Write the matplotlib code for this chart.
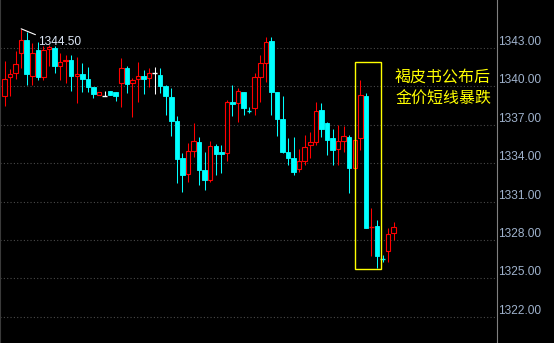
import numpy as np
import matplotlib
matplotlib.use('Agg')
import matplotlib.pyplot as plt
from matplotlib.patches import Rectangle
from matplotlib.transforms import blended_transform_factory, offset_copy

# 1分钟K线 (开, 高, 低, 收)
opens = [1339.25, 1340.71, 1341.02, 1342.59, 1343.63, 1340.84, 1342.84, 1340.76, 1342.92, 1343.02,
         1341.60, 1341.96, 1342.06, 1340.85, 1340.97, 1340.58, 1339.93, 1339.33, 1339.25, 1339.64,
         1339.59, 1340.24, 1341.41, 1340.30, 1340.55, 1340.81, 1340.63, 1341.07, 1340.89, 1340.03,
         1339.20, 1337.30, 1334.43, 1333.13, 1334.98, 1335.68, 1333.47, 1332.69, 1335.34, 1334.90,
         1334.82, 1338.80, 1338.68, 1339.56, 1338.10, 1338.29, 1340.76, 1341.80, 1343.55, 1339.59,
         1337.43, 1334.90, 1334.40, 1333.55, 1334.20, 1335.42, 1335.68, 1338.16, 1337.12, 1335.94,
         1335.08, 1335.76, 1336.07, 1333.60, 1335.94, 1339.25, 1329.02, 1329.10, 1326.54, 1327.16,
         1328.57]
highs = [1341.98, 1341.36, 1342.77, 1344.50, 1344.27, 1343.37, 1343.49, 1343.18, 1343.23, 1343.16,
         1342.59, 1342.45, 1342.45, 1342.30, 1341.83, 1341.49, 1339.95, 1339.56, 1339.64, 1339.66,
         1339.60, 1342.20, 1341.60, 1340.66, 1341.90, 1341.28, 1341.46, 1341.54, 1341.46, 1340.11,
         1339.90, 1337.69, 1334.82, 1335.60, 1337.16, 1336.07, 1334.90, 1335.73, 1335.50, 1335.42,
         1338.94, 1340.11, 1339.85, 1339.56, 1338.37, 1341.02, 1342.45, 1343.88, 1343.88, 1339.60,
         1339.25, 1335.97, 1336.05, 1335.08, 1336.20, 1336.46, 1338.76, 1338.68, 1337.24, 1336.65,
         1336.98, 1336.91, 1336.20, 1335.97, 1340.50, 1339.46, 1330.50, 1329.56, 1326.83, 1328.91,
         1329.38]
lows = [1338.47, 1339.25, 1340.55, 1341.41, 1340.11, 1340.11, 1340.50, 1340.50, 1341.60, 1341.02,
        1340.50, 1340.29, 1339.66, 1338.70, 1339.59, 1339.59, 1339.12, 1339.31, 1339.25, 1339.30,
        1338.88, 1338.41, 1339.46, 1337.60, 1338.80, 1339.40, 1339.93, 1339.40, 1339.46, 1337.77,
        1336.13, 1332.48, 1331.77, 1332.55, 1334.50, 1332.30, 1331.90, 1332.50, 1333.08, 1333.26,
        1334.17, 1337.69, 1337.24, 1337.77, 1337.95, 1337.77, 1338.80, 1340.37, 1337.77, 1336.13,
        1334.80, 1333.86, 1333.08, 1333.34, 1333.86, 1334.38, 1335.42, 1336.07, 1334.64, 1333.86,
        1333.86, 1334.90, 1331.67, 1333.47, 1335.03, 1328.96, 1326.75, 1325.79, 1326.28, 1326.30,
        1328.00]
closes = [1340.58, 1340.95, 1341.73, 1343.63, 1340.95, 1342.59, 1340.71, 1342.84, 1343.08, 1341.62,
          1341.88, 1342.09, 1340.84, 1340.97, 1340.58, 1339.93, 1339.41, 1339.54, 1339.25, 1339.33,
          1339.27, 1341.41, 1340.16, 1340.50, 1340.81, 1340.58, 1341.07, 1341.07, 1340.03, 1339.27,
          1337.32, 1334.33, 1333.08, 1334.95, 1335.73, 1333.47, 1332.69, 1335.34, 1334.72, 1334.72,
          1338.80, 1338.65, 1339.64, 1338.34, 1338.06, 1340.71, 1341.80, 1343.45, 1339.59, 1337.45,
          1334.88, 1334.43, 1333.34, 1334.17, 1335.24, 1335.68, 1338.10, 1336.65, 1335.81, 1335.03,
          1335.73, 1336.13, 1333.60, 1335.81, 1339.33, 1328.96, 1329.04, 1326.75, 1326.50, 1328.47,
          1328.99]

price_ticks = [1322, 1325, 1328, 1331, 1334, 1337, 1340, 1343]
note_lines = ['褐皮书公布后', '金价短线暴跌']
crash_bars = [64, 65, 66, 67]   # 黄框里的几根K线

UP = '#ff0000'
DOWN = '#00ffff'
FLAT = '#ffffff'
BG = 'black'

o = np.array(opens)
h = np.array(highs)
l = np.array(lows)
c = np.array(closes)
x = np.arange(len(o))

fig = plt.figure(figsize=(5.54, 3.43), dpi=100, facecolor=BG)
ax = fig.add_axes([0, 0, 497 / 554, 1])
ax.set_facecolor(BG)

step = 5.56  # 每根K线的像素间距
ax.set_xlim(-4.5 / step, (497 - 4.5) / step)
ax.set_ylim(1343 - 295 / 12.8, 1343 + 48 / 12.8)

# 颜色：涨红跌青，平盘白
cols = np.where(c > o, UP, np.where(c < o, DOWN, FLAT))

# 网格
for t in price_ticks:
    ax.axhline(t, color='#4a4a4a', lw=0.8, ls=(0, (1, 2)), zorder=0)

# 影线
ax.vlines(x, l, h, colors=cols, lw=0.75, zorder=2)

# 实体
w = 0.82
body = np.abs(c - o)
bottom = np.minimum(o, c)
big = body >= 0.08
up = c > o
ax.bar(x[big & up], body[big & up], bottom=bottom[big & up], width=w,
       facecolor=BG, edgecolor=UP, lw=0.8, zorder=3)
ax.bar(x[big & ~up], body[big & ~up], bottom=bottom[big & ~up], width=w,
       facecolor=DOWN, edgecolor=DOWN, lw=0.6, zorder=3)
small = ~big
ax.hlines((o[small] + c[small]) / 2, x[small] - w / 2, x[small] + w / 2,
          colors=cols[small], lw=1.0, zorder=3)

# 最高价标注
ip = int(np.argmax(h))
ax.annotate('%.2f' % h[ip], xy=(x[ip], h[ip]), xytext=(17, -13),
            textcoords='offset pixels', ha='left', va='center',
            color='#dce6f5', fontsize=8.6, family='Liberation Sans',
            arrowprops=dict(arrowstyle='-', color='white', lw=0.8,
                            shrinkA=0, shrinkB=0, relpos=(0, 1)), zorder=5)

# 黄框
x0 = x[crash_bars[0]] - 0.95
x1 = x[crash_bars[-1]] + 0.72
y0 = l[crash_bars].min() - 0.02
y1 = h[crash_bars].max() + 1.4
ax.add_patch(Rectangle((x0, y0), x1 - x0, y1 - y0, fill=False,
                       ec='#ffff00', lw=1.0, zorder=4))

# 文字说明
ax.text(443 / 497, 1 - 78 / 343, note_lines[0], transform=ax.transAxes,
        ha='center', va='center', color='#ffff00', fontsize=11.5,
        family=['Noto Sans CJK SC', 'DejaVu Sans'])
ax.text(443 / 497, 1 - 99 / 343, note_lines[1], transform=ax.transAxes,
        ha='center', va='center', color='#ffff00', fontsize=11.5,
        family=['Noto Sans CJK SC', 'DejaVu Sans'])

# 右侧价格刻度
tr = blended_transform_factory(ax.transAxes, ax.transData)
tr = offset_copy(tr, fig=fig, x=1.5, y=6, units='dots')
for t in price_ticks:
    ax.text(1.0, t, '%.2f' % t, transform=tr, ha='left', va='center',
            color='#9fb2cc', fontsize=8.6, family='Liberation Sans', clip_on=False)

ax.set_xticks([])
ax.set_yticks([])
for s in ['top', 'bottom']:
    ax.spines[s].set_visible(False)
ax.spines['right'].set_color('#808080')
ax.spines['right'].set_linewidth(0.8)
ax.spines['left'].set_color('#3a3a3a')
ax.spines['left'].set_linewidth(0.8)

fig.savefig('out.png', dpi=100, facecolor=BG)
